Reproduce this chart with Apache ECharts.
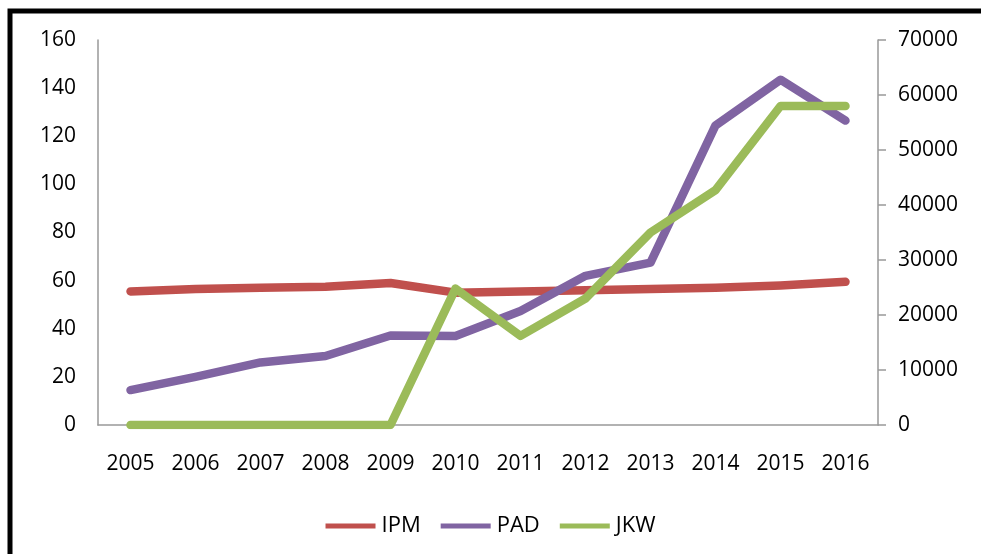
<!DOCTYPE html>
<html>
<head>
<meta charset="utf-8">
<script src="https://cdn.jsdelivr.net/npm/echarts@6/dist/echarts.min.js"></script>
<style>
  html, body { margin: 0; padding: 0; background: #fff; }
  #chart { width: 981px; height: 554px; }
</style>
</head>
<body>
<div id="chart"></div>
<script>
// data
const years = ["2005", "2006", "2007", "2008", "2009", "2010", "2011", "2012", "2013", "2014", "2015", "2016"];
const ipm = [55.5, 56.5, 57, 57.5, 59, 55, 55.5, 56, 56.5, 57, 58, 59.5];
const pad = [14.5, 20, 26, 28.7, 37.2, 37, 47.4, 62, 67.5, 124.5, 143.5, 126.5];
const jkw = [0, 0, 0, 0, 0, 24800, 16200, 23000, 35000, 42700, 58000, 58000];
const leftTicks = { min: 0, max: 160, interval: 20 };
const rightTicks = { min: 0, max: 70000, interval: 10000 };

var myChart = echarts.init(document.getElementById("chart"));
const font = "'Open Sans', 'Noto Sans', sans-serif";
const lineW = 8.5;

function lineSeries(name, data, color, yIndex) {
  return {
    name: name,
    type: "line",
    data: data,
    yAxisIndex: yIndex,
    symbol: "none",
    lineStyle: { color: color, width: lineW, cap: "round", join: "round" },
    itemStyle: { color: color },
  };
}

var option = {
  backgroundColor: "#fff",
  animation: false,
  grid: {
    left: 98,
    right: 103,
    top: 40,
    bottom: 129,
    containLabel: false,
  },
  legend: {
    bottom: 12,
    left: "center",
    itemWidth: 50,
    itemHeight: 5,
    itemGap: 20,
    icon: "rect",
    textStyle: { fontFamily: font, fontSize: 22, color: "#000", padding: [0, 0, 0, 1] },
    data: ["IPM", "PAD", "JKW"],
  },
  xAxis: {
    type: "category",
    data: years,
    boundaryGap: true,
    axisLine: { show: true, lineStyle: { color: "#999", width: 1.5 } },
    axisTick: { show: false },
    axisLabel: { fontFamily: font, fontSize: 21, color: "#000", margin: 29 },
    splitLine: { show: false },
  },
  yAxis: [
    {
      type: "value",
      min: leftTicks.min,
      max: leftTicks.max,
      interval: leftTicks.interval,
      axisLine: { show: true, lineStyle: { color: "#999", width: 1.5 } },
      axisTick: { show: false },
      splitLine: { show: false },
      axisLabel: { fontFamily: font, fontSize: 21, color: "#000", margin: 22 },
    },
    {
      type: "value",
      position: "right",
      min: rightTicks.min,
      max: rightTicks.max,
      interval: rightTicks.interval,
      axisLine: { show: true, lineStyle: { color: "#999", width: 1.5 } },
      axisTick: { show: true, length: 8, lineStyle: { color: "#999", width: 1.5 } },
      splitLine: { show: false },
      axisLabel: {
        fontFamily: font, fontSize: 21, color: "#000", margin: 20,
        formatter: function (v) { return String(v); },
      },
    },
  ],
  graphic: [
    {
      type: "polyline",
      shape: { points: [[10, 554], [10, 11], [981, 11]] },
      style: { stroke: "#000", lineWidth: 5, fill: null },
      silent: true,
    },
  ],
  series: [
    lineSeries("IPM", ipm, "#C0504D", 0),
    lineSeries("PAD", pad, "#8064A2", 0),
    lineSeries("JKW", jkw, "#9BBB59", 1),
  ],
};

option && myChart.setOption(option);
</script>
</body>
</html>
